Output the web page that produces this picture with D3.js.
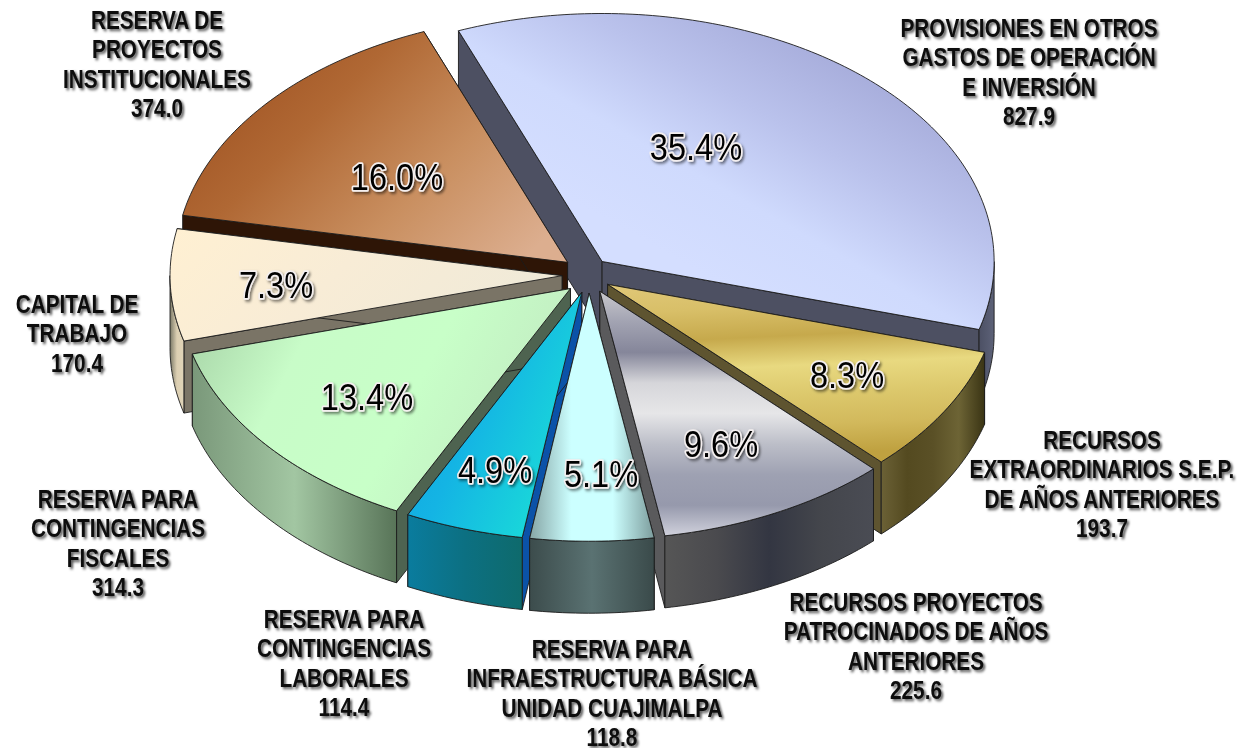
<!DOCTYPE html>
<html>
<head>
<meta charset="utf-8">
<script src="https://cdn.jsdelivr.net/npm/d3@7"></script>
<style>
  html, body { margin: 0; background: #fff; }
  svg { display: block; }
  text { font-family: "Liberation Sans", Arial, sans-serif; text-anchor: middle; }
</style>
</head>
<body>
<div id="chart"></div>
<script>
const categories = [
  ["PROVISIONES EN OTROS", "GASTOS DE OPERACIÓN", "E INVERSIÓN"],
  ["RECURSOS", "EXTRAORDINARIOS S.E.P.", "DE AÑOS ANTERIORES"],
  ["RECURSOS PROYECTOS", "PATROCINADOS DE AÑOS", "ANTERIORES"],
  ["RESERVA PARA", "INFRAESTRUCTURA BÁSICA", "UNIDAD CUAJIMALPA"],
  ["RESERVA PARA", "CONTINGENCIAS", "LABORALES"],
  ["RESERVA PARA", "CONTINGENCIAS", "FISCALES"],
  ["CAPITAL DE", "TRABAJO"],
  ["RESERVA DE", "PROYECTOS", "INSTITUCIONALES"]
];
const values = [827.9, 193.7, 225.6, 118.8, 114.4, 314.3, 170.4, 374.0];
const percents = ["35.4%", "8.3%", "9.6%", "5.1%", "4.9%", "13.4%", "7.3%", "16.0%"];

// where the texts sit, same order as categories
const labelPos = [[1029, 29], [1102, 441], [916, 603], [612, 650], [344, 620], [118, 500], [77, 305], [157, 21]];
const percentPos = [[696, 147], [847, 375], [721, 444], [601, 474], [495, 470], [367, 397], [276, 285], [397, 177]];

// small pixel corrections per slice
const nudges = [[0, 0], [1, 0], [3, 0], [3, 0], [3, 0], [3, 2], [0, 0], [0, -1]];

// painter's order, back to front
const drawOrder = [0, 7, 1, 6, 2, 5, 4, 3];

// [x1, y1, x2, y2, ...stops]
const topFills = [
  [0.22, 0.6, 0.68, 0.12, "#d4deff", "#cfdafd", "#bac2ec", "#a8aedc"],
  [0, 0, 0.1, 1, "#e0c878", "#d8bf68", "#c6a94c", "#e8d980", "#dcc86c", "#d2b95c", "#bfa140"],
  [0, 0, 0, 1, "#c8c8cc", "#a2a3b2", "#85869a", "#d6d6da", "#e6e6e8", "#bcbec8", "#9ea1b2", "#9699ac", "#d0d1dc"],
  [0, 0, 1, 0, "#86a5a5", "#ccffff", "#ccffff", "#7c9c9c"],
  [0, 0, 1, 0.6, "#0d9fe0", "#14b4e4", "#1adcd8"],
  [0, 0, 1, 0.3, "#a4d0a4", "#c8fcc8", "#c8ffc8", "#c2ecc2"],
  [0, 0, 1, 0.3, "#fff0d2", "#f8ecd6", "#f0ead8"],
  [0, 0.2, 1, 0.8, "#9c4e1e", "#b06834", "#c98f60", "#dcae8f"]
];
const wallFills = [
  [0, 0, 1, 0, "#4c5064", "#5d6278"],
  [0, 0, 1, 0, "#6b6136", "#544a20", "#5a5026", "#6d6435", "#3a3414"],
  [0, 0, 1, 0, "#565656", "#4a4a4e", "#333642", "#44464c", "#4a4c54"],
  [0, 0, 1, 0, "#3c4c4c", "#5a7272", "#3a4a4a"],
  [0, 0, 1, 0, "#0a7c9e", "#0c7082", "#0e6a6c"],
  [0, 0, 1, 0, "#7a987a", "#a2c6a2", "#587458"],
  [0, 0, 1, 0, "#7c7a68", "#dccfb2", "#e0d4b8"],
  [0, 0, 1, 0, "#2e1506", "#2e1506"]
];
const faceFills = ["#4d5062", "#5e5430", "#5a5a5c", "#4a5a5a", "#0b52a8", "#4e6350", "#7a7466", "#2e1506"];

const width = 1247, height = 748;
const cx = 586, cy = 275, rx = 392, ry = 248, depth = 72;
const explodeX = 0.0612, explodeY = 0.0735;
const rad = Math.PI / 180;

const svg = d3.select("#chart").append("svg").attr("width", width).attr("height", height);
const defs = svg.append("defs");

const x = d3.scaleLinear().domain([-1, 1]).range([cx - rx, cx + rx]);
const y = d3.scaleLinear().domain([-1, 1]).range([cy - ry, cy + ry]);

const arcs = d3.pie().sort(null).startAngle(-21.5 * rad).endAngle(338.5 * rad)(values);

function gradient(id, spec) {
  const [x1, y1, x2, y2, ...stops] = spec;
  const g = defs.append("linearGradient").attr("id", id)
    .attr("x1", x1).attr("y1", y1).attr("x2", x2).attr("y2", y2);
  stops.forEach((c, i) => {
    g.append("stop").attr("offset", i / (stops.length - 1)).attr("stop-color", c);
  });
}

const blur = (id, dx, dy, sd, opacity) => {
  defs.append("filter").attr("id", id)
    .attr("x", "-20%").attr("y", "-40%").attr("width", "140%").attr("height", "180%")
    .append("feDropShadow")
    .attr("dx", dx).attr("dy", dy).attr("stdDeviation", sd)
    .attr("flood-color", "#000").attr("flood-opacity", opacity);
};
blur("labelShadow", 2.4, 2, 1.6, 0.65);
blur("pctShadow", 2, 2, 1.5, 0.5);

const pathOf = d3.line().x(d => d[0]).y(d => d[1]);

// one slice: side faces, outer wall, then the top
function drawSlice(i) {
  const d = arcs[i];
  const mid = (d.startAngle + d.endAngle) / 2;
  const ox = explodeX * Math.sin(mid), oy = -explodeY * Math.cos(mid);
  const [nx, ny] = nudges[i];
  const pt = (a, down) => [x(Math.sin(a) + ox) + nx, y(-Math.cos(a) + oy) + ny + down];
  const apex = down => [x(ox) + nx, y(oy) + ny + down];
  const rim = (from, to) => {
    const n = Math.max(2, Math.ceil((to - from) / rad));
    return d3.range(n + 1).map(k => from + (to - from) * k / n);
  };

  gradient(`top${i}`, topFills[i]);
  gradient(`wall${i}`, wallFills[i]);

  const g = svg.append("g").attr("stroke", "#1c1c1c").attr("stroke-width", 0.9).attr("stroke-linejoin", "round");

  [d.startAngle, d.endAngle].forEach(a => {
    g.append("path")
      .attr("d", pathOf([apex(0), pt(a, 0), pt(a, depth), apex(depth)]) + "Z")
      .attr("fill", faceFills[i]);
  });

  const a0 = Math.max(d.startAngle, 90 * rad), a1 = Math.min(d.endAngle, 270 * rad);
  if (a1 > a0) {
    const angles = rim(a0, a1);
    const outline = angles.map(a => pt(a, 0)).concat(angles.slice().reverse().map(a => pt(a, depth)));
    g.append("path").attr("d", pathOf(outline) + "Z").attr("fill", `url(#wall${i})`);
  }

  const top = [apex(0)].concat(rim(d.startAngle, d.endAngle).map(a => pt(a, 0)));
  g.append("path").attr("d", pathOf(top) + "Z").attr("fill", `url(#top${i})`);
}

drawOrder.forEach(drawSlice);

// percent labels
percents.forEach((p, i) => {
  svg.append("text")
    .attr("transform", `translate(${percentPos[i][0]},${percentPos[i][1] + 13}) scale(0.88,1)`)
    .attr("font-size", 37)
    .attr("filter", "url(#pctShadow)")
    .attr("stroke", "#f4efef").attr("stroke-width", 3.6).attr("stroke-linejoin", "round")
    .attr("paint-order", "stroke")
    .attr("fill", "#000")
    .text(p);
});

// category labels with the amount as last line, squeezed to the narrow look of the original
categories.forEach((lines, i) => {
  const t = svg.append("text")
    .attr("transform", `translate(${labelPos[i][0]},0) scale(0.83,1)`)
    .attr("font-size", 25).attr("font-weight", "bold").attr("fill", "#0a0a0a")
    .attr("filter", "url(#labelShadow)");
  lines.concat(values[i].toFixed(1)).forEach((line, k) => {
    t.append("tspan")
      .attr("x", 0)
      .attr("y", labelPos[i][1] + 8 + k * 29.5)
      .text(line);
  });
});
</script>
</body>
</html>
